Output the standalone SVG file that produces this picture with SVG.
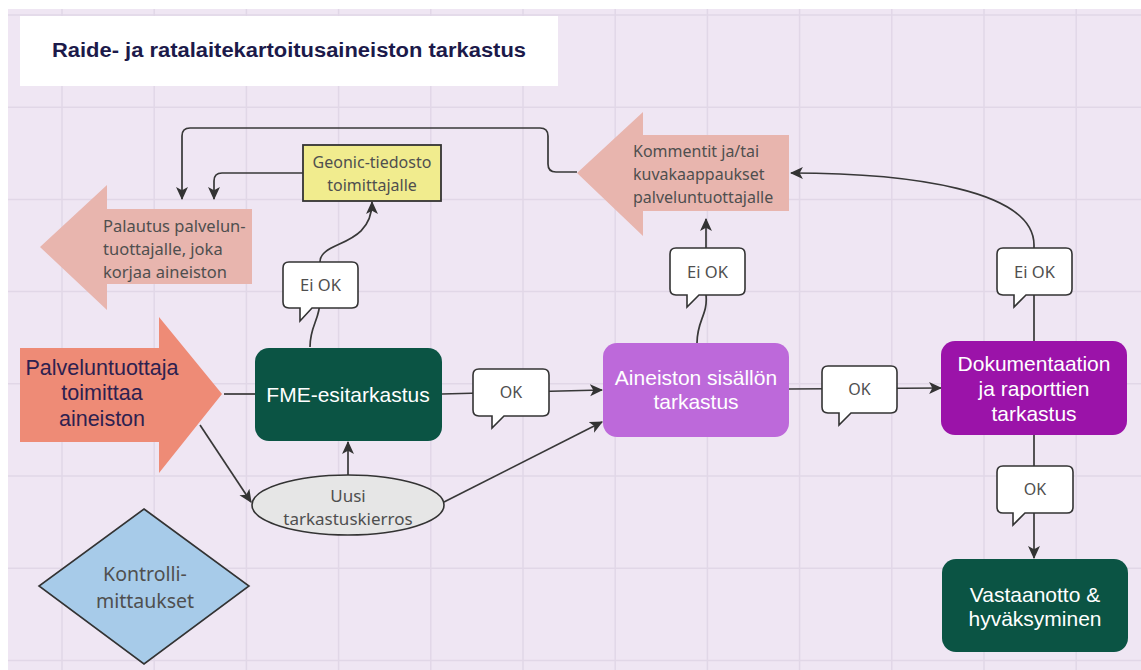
<svg xmlns="http://www.w3.org/2000/svg" width="1141" height="670" viewBox="0 0 1141 670">
<defs>
<style>
.grid line{stroke:#e1d7e7;stroke-width:1.5}
.con{fill:none;stroke:#383838;stroke-width:1.7}
.arr{marker-end:url(#ah)}
.bub{fill:#fff;stroke:#333;stroke-width:1.6}
.rt{font-family:"Noto Sans","DejaVu Sans",sans-serif;fill:#4f4f4f}
.bt{font-family:"Liberation Sans",Arial,sans-serif;font-size:21px;fill:#fff;text-anchor:middle}
.c{text-anchor:middle}
</style>
<marker id="ah" viewBox="0 0 12 12" refX="11" refY="6" markerWidth="13" markerHeight="13" markerUnits="userSpaceOnUse" orient="auto">
<path d="M0,0.5 L12,6 L0,11.5 L3,6 Z" fill="#333"/>
</marker>
</defs>
<rect width="1141" height="670" fill="#ffffff"/>
<rect x="8" y="9" width="1133" height="661" fill="#efe6f3"/>
<g class="grid">
<line x1="62" y1="9" x2="62" y2="670"/><line x1="154.2" y1="9" x2="154.2" y2="670"/><line x1="246.4" y1="9" x2="246.4" y2="670"/><line x1="338.6" y1="9" x2="338.6" y2="670"/><line x1="430.8" y1="9" x2="430.8" y2="670"/><line x1="523" y1="9" x2="523" y2="670"/><line x1="615.2" y1="9" x2="615.2" y2="670"/><line x1="707.4" y1="9" x2="707.4" y2="670"/><line x1="799.6" y1="9" x2="799.6" y2="670"/><line x1="891.8" y1="9" x2="891.8" y2="670"/><line x1="984" y1="9" x2="984" y2="670"/><line x1="1076.2" y1="9" x2="1076.2" y2="670"/>
<line x1="8" y1="15" x2="1141" y2="15"/><line x1="8" y1="107.2" x2="1141" y2="107.2"/><line x1="8" y1="199.4" x2="1141" y2="199.4"/><line x1="8" y1="291.6" x2="1141" y2="291.6"/><line x1="8" y1="383.8" x2="1141" y2="383.8"/><line x1="8" y1="476" x2="1141" y2="476"/><line x1="8" y1="568.2" x2="1141" y2="568.2"/><line x1="8" y1="660.4" x2="1141" y2="660.4"/>
</g>
<g id="title">
<rect x="20" y="16" width="538" height="70" fill="#fff"/>
<text x="52" y="57" font-family="Liberation Sans,Arial,sans-serif" font-weight="bold" font-size="20" fill="#1c1a4a" textLength="474" lengthAdjust="spacingAndGlyphs">Raide- ja ratalaitekartoitusaineiston tarkastus</text>
</g>
<g id="connectors">
<path class="con" d="M224,394 L255,394"/>
<path class="con arr" d="M200,425 L251,502"/>
<path class="con arr" d="M348,475 L348,442"/>
<path class="con arr" d="M444,502 L602,422"/>
<path class="con arr" d="M442,394 L520,392 L602,390"/>
<path class="con arr" d="M789,389 L941,388"/>
<path class="con arr" d="M1034,435 L1034,558"/>
<path class="con arr" d="M310,347 C310,325 320,320 320,300 L320,262 C320,240 372,248 372,202"/>
<path class="con arr" d="M303,173 L222,173 Q214,173 214,181 L214,199"/>
<path class="con arr" d="M577,172 L556,172 Q548,172 548,164 L548,136 Q548,128 540,128 L190,128 Q182,128 182,136 L182,199"/>
<path class="con arr" d="M697,343 C697,320 708,315 706,295 L706,219"/>
<path class="con arr" d="M1034,341 L1034,245 C1034,190 910,173 791,173"/>
</g>
<g id="palveluntuottaja">
<path d="M20,348 L159,348 L159,317 L222,394 L159,473 L159,442 L20,442 Z" fill="#ee8b76"/>
<text font-family="Liberation Sans,Arial,sans-serif" font-size="21.5" fill="#2d2150" class="c"><tspan x="102" y="375">Palveluntuottaja</tspan><tspan x="102" y="400">toimittaa</tspan><tspan x="102" y="426">aineiston</tspan></text>
</g>
<g id="palautus">
<path d="M40,247 L107,185 L107,209 L252,209 L252,284 L107,284 L107,310 Z" fill="#e8b5ae"/>
<text class="rt" font-size="16.5"><tspan x="103" y="232">Palautus palvelun-</tspan><tspan x="103" y="255">tuottajalle, joka</tspan><tspan x="103" y="278">korjaa aineiston</tspan></text>
</g>
<g id="geonic">
<rect x="303" y="145" width="138" height="56" fill="#f1ec8e" stroke="#333" stroke-width="1.8"/>
<text class="rt c" font-size="16"><tspan x="372" y="168">Geonic-tiedosto</tspan><tspan x="372" y="191">toimittajalle</tspan></text>
</g>
<g id="kommentit">
<path d="M577,173 L643,112 L643,135 L789,135 L789,211 L643,211 L643,236 Z" fill="#e8b5ae"/>
<text class="rt" font-size="16"><tspan x="633" y="157">Kommentit ja/tai</tspan><tspan x="633" y="180">kuvakaappaukset</tspan><tspan x="633" y="203">palveluntuottajalle</tspan></text>
</g>
<g id="fme">
<rect x="255" y="348" width="187" height="93" rx="14" fill="#0b5444"/>
<text class="bt" x="348" y="402">FME-esitarkastus</text>
</g>
<g id="uusi">
<ellipse cx="348" cy="505" rx="96" ry="30" fill="#e6e6e6" stroke="#333" stroke-width="1.6"/>
<text class="rt c" font-size="17"><tspan x="348" y="502">Uusi</tspan><tspan x="348" y="525">tarkastuskierros</tspan></text>
</g>
<g id="aineiston">
<rect x="603" y="343" width="186" height="94" rx="14" fill="#bd69da"/>
<text class="bt"><tspan x="696" y="385">Aineiston sisällön</tspan><tspan x="696" y="409">tarkastus</tspan></text>
</g>
<g id="dokumentaatio">
<rect x="941" y="341" width="186" height="94" rx="14" fill="#9b13a9"/>
<text class="bt"><tspan x="1034" y="371">Dokumentaation</tspan><tspan x="1034" y="396">ja raporttien</tspan><tspan x="1034" y="421">tarkastus</tspan></text>
</g>
<g id="vastaanotto">
<rect x="942" y="559" width="186" height="93" rx="14" fill="#0b5444"/>
<text class="bt"><tspan x="1035" y="602">Vastaanotto &amp;</tspan><tspan x="1035" y="626">hyväksyminen</tspan></text>
</g>
<g id="kontrolli">
<path d="M144,509 L249,586 L144,664 L39,586 Z" fill="#a7cbe9" stroke="#333" stroke-width="1.6"/>
<text class="rt c" font-size="19.5"><tspan x="145" y="581">Kontrolli-</tspan><tspan x="145" y="608">mittaukset</tspan></text>
</g>
<g id="label-eiok-1">
<path class="bub" d="M289,262 H352 Q358,262 358,268 V302 Q358,308 352,308 H312 L300,321 L300,308 H289 Q283,308 283,302 V268 Q283,262 289,262 Z"/>
<text class="rt c" font-size="16.5" x="320.5" y="291">Ei OK</text>
</g>
<g id="label-eiok-2">
<path class="bub" d="M676,248 H739 Q745,248 745,254 V289 Q745,295 739,295 H699 L687,307 L687,295 H676 Q670,295 670,289 V254 Q670,248 676,248 Z"/>
<text class="rt c" font-size="16.5" x="707.5" y="278">Ei OK</text>
</g>
<g id="label-eiok-3">
<path class="bub" d="M1003,248 H1066 Q1072,248 1072,254 V289 Q1072,295 1066,295 H1026 L1014,307 L1014,295 H1003 Q997,295 997,289 V254 Q997,248 1003,248 Z"/>
<text class="rt c" font-size="16.5" x="1034.5" y="278">Ei OK</text>
</g>
<g id="label-ok-1">
<path class="bub" d="M479,369 H543 Q549,369 549,375 V410 Q549,416 543,416 H504 L492,428 L492,416 H479 Q473,416 473,410 V375 Q473,369 479,369 Z"/>
<text class="rt c" font-size="16" x="511" y="398">OK</text>
</g>
<g id="label-ok-2">
<path class="bub" d="M828,366 H891 Q897,366 897,372 V407 Q897,413 891,413 H851 L839,425 L839,413 H828 Q822,413 822,407 V372 Q822,366 828,366 Z"/>
<text class="rt c" font-size="16" x="859.5" y="395">OK</text>
</g>
<g id="label-ok-3">
<path class="bub" d="M1003,466 H1067 Q1073,466 1073,472 V507 Q1073,513 1067,513 H1025 L1013,525 L1013,513 H1003 Q997,513 997,507 V472 Q997,466 1003,466 Z"/>
<text class="rt c" font-size="16" x="1035" y="495">OK</text>
</g>
</svg>
